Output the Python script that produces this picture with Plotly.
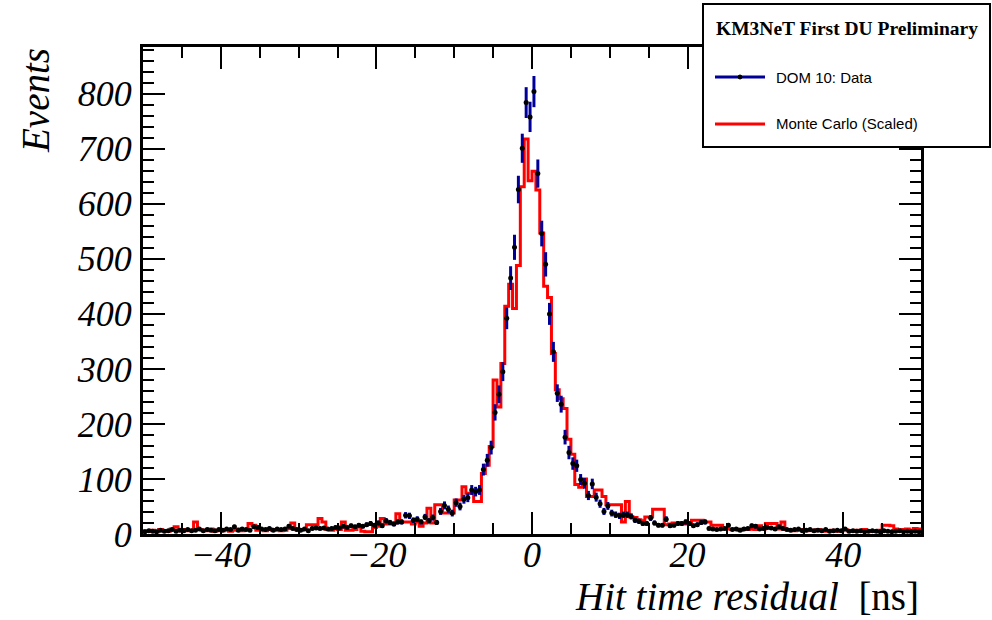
import numpy as np
import plotly.graph_objects as go

# ---- binning (100 ns window, 0.5 ns bins) ----
x_min, x_max, n_bins = -50.0, 50.0, 200

# ---- DOM 10 data counts per bin (from -49.75 to 49.75 ns) ----
data_counts = [
    4, 6, 5, 4, 7, 5, 6, 8, 5, 7,
    6, 8, 6, 7, 9, 6, 8, 7, 6, 8,
    7, 9, 8, 13, 7, 9, 8, 7, 13, 12,
    9, 8, 10, 7, 9, 8, 9, 14, 10, 8,
    7, 9, 6, 10, 11, 10, 11, 9, 10, 12,
    11, 14, 12, 15, 13, 16, 14, 17, 19, 16,
    20, 15, 24, 21, 18, 22, 22, 34, 33, 25,
    27, 22, 31, 24, 30, 21, 41, 52, 45, 38,
    57, 50, 63, 66, 80, 77, 80, 117, 134, 157,
    221, 254, 295, 392, 465, 521, 626, 701, 784, 758,
    804, 655, 546, 490, 400, 331, 256, 236, 176, 148,
    128, 124, 99, 92, 70, 91, 67, 55, 41, 51,
    38, 35, 33, 35, 35, 32, 25, 23, 19, 19,
    29, 20, 16, 16, 27, 15, 16, 19, 19, 22,
    19, 15, 17, 21, 22, 10, 9, 8, 9, 10,
    16, 8, 9, 7, 9, 10, 15, 14, 9, 10,
    12, 11, 9, 13, 10, 8, 7, 8, 9, 6,
    7, 8, 6, 7, 6, 8, 5, 6, 7, 6,
    9, 5, 6, 5, 6, 4, 5, 6, 5, 4,
    6, 5, 4, 5, 6, 4, 5, 4, 5, 4,
]

# ---- Monte Carlo (scaled) counts per bin ----
mc_counts = [
    6, 5, 7, 4, 8, 6, 5, 9, 13, 6,
    8, 6, 7, 22, 8, 7, 6, 9, 5, 7,
    6, 8, 5, 7, 9, 6, 8, 19, 16, 7,
    8, 6, 9, 7, 8, 6, 7, 10, 20, 9,
    7, 8, 17, 17, 17, 28, 22, 8, 7, 9,
    8, 22, 7, 7, 8, 13, 5, 4, 4, 12,
    14, 28, 18, 18, 20, 37, 22, 22, 22, 18,
    22, 14, 20, 47, 20, 53, 53, 38, 38, 38,
    62, 62, 86, 74, 74, 59, 59, 110, 125, 159,
    280, 231, 310, 414, 454, 410, 488, 631, 718, 642,
    659, 625, 547, 450, 430, 328, 262, 246, 228, 172,
    145, 90, 85, 100, 68, 68, 80, 80, 68, 53,
    53, 53, 53, 22, 59, 31, 30, 26, 24, 31,
    31, 45, 45, 45, 17, 18, 20, 20, 19, 18,
    18, 25, 25, 25, 22, 22, 16, 16, 16, 9,
    9, 8, 9, 7, 9, 8, 9, 8, 15, 9,
    19, 19, 19, 9, 22, 8, 7, 6, 7, 8,
    6, 7, 6, 8, 7, 5, 6, 7, 5, 6,
    8, 6, 5, 7, 6, 8, 5, 6, 5, 7,
    16, 16, 15, 9, 7, 8, 9, 7, 10, 9,
]

x_ticks = [-40, -20, 0, 20, 40]
y_ticks = [0, 100, 200, 300, 400, 500, 600, 700, 800]

legend_title = "KM3NeT First DU Preliminary"
label_data = "DOM 10: Data"
label_mc = "Monte Carlo (Scaled)"

edges = np.linspace(x_min, x_max, n_bins + 1)
centers = 0.5 * (edges[:-1] + edges[1:])
data = np.array(data_counts, dtype=float)
mc = np.array(mc_counts, dtype=float)

fig = go.Figure()

# MC as a step histogram
fig.add_trace(go.Scatter(
    x=edges, y=np.append(mc, mc[-1]), mode="lines",
    line=dict(shape="hv", color="#ff0000", width=3),
    name=label_mc, showlegend=False, hoverinfo="skip",
))

# Data as points with sqrt(N) error bars
fig.add_trace(go.Scatter(
    x=centers, y=data, mode="markers",
    marker=dict(color="black", size=5),
    error_y=dict(type="data", array=np.sqrt(data), color="#000099",
                 thickness=3, width=0),
    name=label_data, showlegend=False,
))

serif = "Liberation Serif, Times New Roman, serif"
sans = "Liberation Sans, Arial, Helvetica, sans-serif"

axis_common = dict(
    showline=True, linewidth=3, linecolor="black", mirror="allticks",
    ticks="inside", ticklen=22, tickwidth=2, tickcolor="black",
    showgrid=False, zeroline=False,
    tickfont=dict(family=serif, size=36, color="black", style="italic"),
)

fig.update_xaxes(
    range=[x_min, x_max], tickvals=x_ticks, ticklabelstandoff=-13,
    minor=dict(ticks="inside", ticklen=11, tickwidth=2, tickcolor="black", dtick=5,
               showgrid=False),
    **axis_common,
)
fig.update_yaxes(
    range=[0, 885], tickvals=y_ticks, ticklabelstandoff=1,
    minor=dict(ticks="inside", ticklen=11, tickwidth=2, tickcolor="black", dtick=20,
               showgrid=False),
    **axis_common,
)

L, R, T, B = 143, 71, 47, 86
W, H = 992, 620
pw, ph = W - L - R, H - T - B


def px(xp):
    return (xp - L) / pw


def py(yp):
    return (H - B - yp) / ph


shapes = [
    dict(type="rect", xref="paper", yref="paper",
         x0=px(703), x1=px(990), y0=py(147), y1=py(4),
         fillcolor="white", line=dict(color="black", width=2), layer="above"),
    dict(type="line", xref="paper", yref="paper",
         x0=px(715), x1=px(765), y0=py(77), y1=py(77),
         line=dict(color="#000099", width=3), layer="above"),
    dict(type="circle", xref="paper", yref="paper",
         x0=px(738), x1=px(742), y0=py(79), y1=py(75),
         fillcolor="black", line=dict(color="black", width=1), layer="above"),
    dict(type="line", xref="paper", yref="paper",
         x0=px(715), x1=px(765), y0=py(124), y1=py(124),
         line=dict(color="#ff0000", width=3), layer="above"),
]

annotations = [
    dict(text="<b>" + legend_title + "</b>", xref="paper", yref="paper",
         x=px(847), y=py(28), xanchor="center", yanchor="middle", showarrow=False,
         font=dict(family=serif, size=19.5, color="black")),
    dict(text=label_data, xref="paper", yref="paper",
         x=px(774), y=py(77), xanchor="left", yanchor="middle", showarrow=False,
         font=dict(family=sans, size=15, color="black")),
    dict(text=label_mc, xref="paper", yref="paper",
         x=px(774), y=py(124), xanchor="left", yanchor="middle", showarrow=False,
         font=dict(family=sans, size=15, color="black")),
    dict(text="<i>Events</i>", xref="paper", yref="paper", textangle=-90,
         x=px(35), y=py(100), xanchor="center", yanchor="middle", showarrow=False,
         font=dict(family=serif, size=39, color="black")),
    dict(text="<i>Hit time residual</i>  [ns]", xref="paper", yref="paper",
         x=1.0, y=py(596), xanchor="right", yanchor="middle", showarrow=False,
         font=dict(family=serif, size=39, color="black")),
]

fig.update_layout(
    width=W, height=H,
    margin=dict(l=L, r=R, t=T, b=B, pad=0),
    paper_bgcolor="white", plot_bgcolor="white",
    showlegend=False,
    shapes=shapes, annotations=annotations,
)

fig.write_html("out.html")
